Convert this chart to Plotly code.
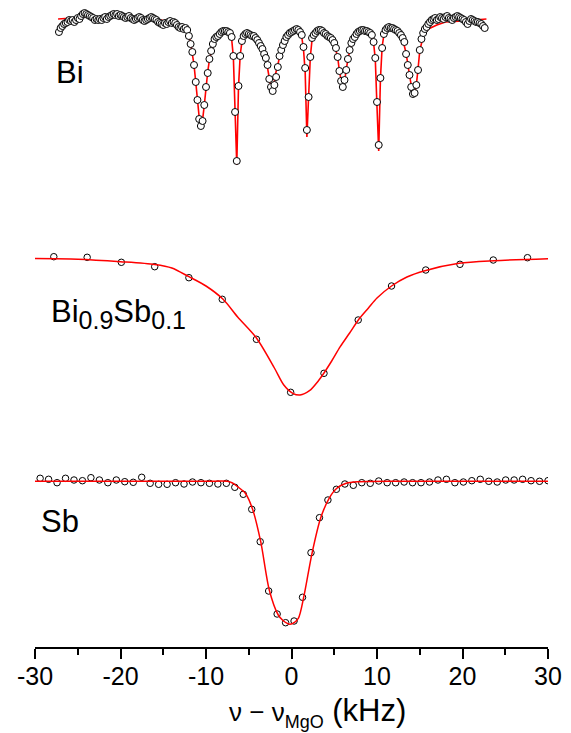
import plotly.graph_objects as go

# ---------------- data (heights in arbitrary units, stacked spectra) ----------------
bi_x = [
    -27.2, -27.0, -26.8, -26.6, -26.4, -26.2, -26.0, -25.8, -25.6, -25.4,
    -25.2, -25.0, -24.8, -24.6, -24.4, -24.2, -24.0, -23.8, -23.6, -23.4,
    -23.2, -23.0, -22.8, -22.6, -22.4, -22.2, -22.0, -21.8, -21.6, -21.4,
    -21.2, -21.0, -20.8, -20.6, -20.4, -20.2, -20.0, -19.8, -19.6, -19.4,
    -19.2, -19.0, -18.8, -18.6, -18.4, -18.2, -18.0, -17.8, -17.6, -17.4,
    -17.2, -17.0, -16.8, -16.6, -16.4, -16.2, -16.0, -15.8, -15.6, -15.4,
    -15.2, -15.0, -14.8, -14.6, -14.4, -14.2, -14.0, -13.8, -13.6, -13.4,
    -13.2, -13.0, -12.8, -12.6, -12.4, -12.2, -12.0, -11.8, -11.6, -11.4,
    -11.2, -11.0, -10.8, -10.6, -10.4, -10.2, -10.0, -9.8, -9.6, -9.4,
    -9.2, -9.0, -8.8, -8.6, -8.4, -8.2, -8.0, -7.8, -7.6, -7.4,
    -7.2, -7.0, -6.8, -6.6, -6.4, -6.2, -6.0, -5.8, -5.6, -5.4,
    -5.2, -5.0, -4.8, -4.6, -4.4, -4.2, -4.0, -3.8, -3.6, -3.4,
    -3.2, -3.0, -2.8, -2.6, -2.4, -2.2, -2.0, -1.8, -1.6, -1.4,
    -1.2, -1.0, -0.8, -0.6, -0.4, -0.2, 0.0, 0.2, 0.4, 0.6,
    0.8, 1.0, 1.2, 1.4, 1.6, 1.8, 2.0, 2.2, 2.4, 2.6,
    2.8, 3.0, 3.2, 3.4, 3.6, 3.8, 4.0, 4.2, 4.4, 4.6,
    4.8, 5.0, 5.2, 5.4, 5.6, 5.8, 6.0, 6.2, 6.4, 6.6,
    6.8, 7.0, 7.2, 7.4, 7.6, 7.8, 8.0, 8.2, 8.4, 8.6,
    8.8, 9.0, 9.2, 9.4, 9.6, 9.8, 10.0, 10.2, 10.4, 10.6,
    10.8, 11.0, 11.2, 11.4, 11.6, 11.8, 12.0, 12.2, 12.4, 12.6,
    12.8, 13.0, 13.2, 13.4, 13.6, 13.8, 14.0, 14.2, 14.4, 14.6,
    14.8, 15.0, 15.2, 15.4, 15.6, 15.8, 16.0, 16.2, 16.4, 16.6,
    16.8, 17.0, 17.2, 17.4, 17.6, 17.8, 18.0, 18.2, 18.4, 18.6,
    18.8, 19.0, 19.2, 19.4, 19.6, 19.8, 20.0, 20.2, 20.4, 20.6,
    20.8, 21.0, 21.2, 21.4, 21.6, 21.8, 22.0, 22.2, 22.4, 22.6,
]
bi_y = [
    615, 619, 621, 623, 624, 625, 627, 626, 627, 625,
    627, 629, 628, 631, 633, 634, 633, 632, 631, 630,
    629, 627, 628, 627, 628, 627, 629, 630, 628, 630,
    631, 632, 633, 632, 633, 631, 632, 631, 630, 629,
    630, 631, 629, 628, 627, 628, 629, 630, 629, 627,
    626, 627, 628, 629, 630, 629, 628, 627, 625, 624,
    623, 622, 624, 623, 625, 626, 624, 625, 624, 622,
    620, 619, 620, 618, 619, 617, 611, 603, 595, 582,
    565, 547, 528, 521, 526, 542, 560, 574, 588, 596,
    603, 608, 610, 611, 613, 615, 616, 616, 616, 615,
    614, 610, 591, 535, 486, 561, 591, 606, 611, 613,
    614, 613, 612, 611, 611, 609, 607, 604, 601, 598,
    593, 589, 582, 568, 560, 556, 562, 570, 580, 591,
    597, 602, 606, 610, 612, 614, 615, 616, 617, 618,
    617, 615, 612, 600, 579, 517, 550, 590, 609, 612,
    614, 616, 617, 617, 616, 614, 613, 611, 610, 609,
    607, 604, 599, 590, 576, 566, 560, 567, 577, 588,
    597, 604, 608, 610, 613, 615, 616, 617, 617, 616,
    616, 615, 614, 612, 605, 589, 545, 502, 569, 599,
    613, 617, 619, 620, 619, 619, 618, 617, 616, 614,
    612, 609, 605, 593, 582, 572, 560, 553, 554, 562,
    577, 597, 608, 614, 618, 620, 623, 625, 627, 628,
    629, 627, 628, 630, 629, 628, 630, 631, 629, 628,
    627, 629, 630, 631, 630, 629, 628, 627, 625, 623,
    626, 628, 627, 626, 625, 625, 624, 623, 621, 619,
]
bi_fit_x = [-27.3, -24.0, -20.0, -16.0, -14.0, -13.0, -12.3, -12.0, -11.8, -11.6,
            -11.4, -11.2, -11.0, -10.8, -10.6, -10.4, -10.2, -10.0, -9.8, -9.6,
            -9.4, -9.2, -9.0, -8.5, -8.0, -7.5, -7.2, -7.0, -6.8, -6.6,
            -6.4, -6.2, -6.0, -5.8, -5.5, -5.0, -4.5, -4.0, -3.5, -3.0,
            -2.7, -2.5, -2.3, -2.1, -1.9, -1.6, -1.4, -1.0, -0.5, 0.0,
            0.5, 1.0, 1.2, 1.4, 1.6, 1.8, 2.0, 2.2, 2.4, 3.0,
            3.5, 4.0, 4.5, 5.0, 5.4, 5.6, 5.8, 6.0, 6.2, 6.4,
            6.6, 7.0, 7.5, 8.0, 8.5, 9.0, 9.4, 9.6, 9.8, 10.0,
            10.2, 10.4, 10.6, 10.8, 11.2, 12.0, 12.6, 13.0, 13.4, 13.8,
            14.0, 14.2, 14.4, 14.6, 14.8, 15.0, 15.4, 16.0, 17.0, 18.0,
            20.0, 22.8]
bi_fit_y = [628, 630, 630, 628, 625, 622, 617, 612, 604, 595,
            582, 565, 547, 530, 519, 527, 542, 560, 575, 587,
            596, 603, 607, 612, 615, 615, 613, 608, 590, 540,
            482, 560, 592, 605, 611, 613, 611, 607, 600, 589,
            575, 563, 554, 560, 572, 582, 590, 601, 609, 614,
            617, 614, 610, 598, 575, 510, 548, 590, 607, 615,
            616, 612, 609, 603, 590, 576, 565, 558, 566, 577,
            588, 603, 611, 615, 616, 614, 611, 604, 588, 540,
            496, 568, 600, 612, 617, 617, 614, 608, 594, 572,
            560, 552, 553, 562, 578, 596, 611, 618, 622, 625,
            626, 628]

bisb_x = [-27.8, -23.9, -19.9, -16.0, -12.0, -8.1, -4.1, -0.1, 3.8, 7.8,
          11.7, 15.7, 19.7, 23.6, 27.6]
bisb_y = [390.3, 389.7, 384.7, 380.3, 369.3, 347.7, 307.7, 254.7, 273.7, 327.0,
          361.0, 377.0, 382.7, 387.0, 389.3]
bisb_fit_x = [-30, -25, -20, -16, -14, -12, -10, -8, -6.3, -4.1,
              -2.0, -0.9, 0.15, 1.0, 2.1, 3.15, 3.8, 4.7, 5.7, 6.8,
              7.9, 9.0, 10.0, 11.7, 13.5, 15.6, 19.6, 23.7, 30]
bisb_fit_y = [388.4, 387.8, 385.3, 382.5, 379.0, 370.3, 361.0, 347.7, 330.0, 309.0,
              279.0, 262.0, 253.7, 252.0, 256.3, 266.3, 274.0, 286.0, 300.3, 314.0,
              328.0, 339.0, 349.0, 361.0, 370.0, 376.3, 383.7, 386.3, 388.3]

sb_x = [-29.4, -28.41, -27.42, -26.43, -25.44, -24.45, -23.46, -22.47, -21.48, -20.49,
        -19.5, -18.51, -17.52, -16.53, -15.54, -14.55, -13.56, -12.57, -11.58, -10.59,
        -9.6, -8.61, -7.62, -6.63, -5.64, -4.65, -3.66, -2.67, -1.68, -0.69,
        0.3, 1.29, 2.28, 3.27, 4.26, 5.25, 6.24, 7.23, 8.22, 9.21,
        10.2, 11.19, 12.18, 13.17, 14.16, 15.15, 16.14, 17.13, 18.12, 19.11,
        20.1, 21.09, 22.08, 23.07, 24.06, 25.05, 26.04, 27.03, 28.02, 29.01,
        30.0]
sb_y = [168.7, 167.7, 164.3, 168.7, 167.0, 166.3, 169.3, 167.0, 164.3, 167.0,
        165.3, 164.7, 169.7, 163.7, 162.7, 162.7, 164.3, 163.0, 165.0, 164.3,
        163.7, 163.0, 163.7, 159.7, 152.7, 137.7, 105.3, 56.0, 33.0, 24.3,
        26.0, 49.7, 94.3, 129.3, 147.0, 157.7, 163.0, 161.7, 164.3, 163.7,
        166.0, 164.3, 164.3, 165.0, 164.3, 164.3, 165.0, 167.0, 167.7, 164.3,
        165.0, 166.3, 167.7, 165.7, 165.0, 167.0, 167.0, 167.7, 166.3, 165.7,
        166.3]
sb_fit_x = [-30, -10, -7.5, -6.9, -6.3, -5.4, -4.55, -3.6, -2.6, -1.55,
            -1.0, -0.5, -0.2, 0.15, 0.8, 1.44, 2.4, 3.4, 4.4, 5.3,
            6.4, 7.9, 9.0, 12.0, 30]
sb_fit_y = [165.7, 165.7, 165.7, 164.0, 160.3, 153.7, 137.7, 105.3, 57.0, 32.0,
            26.5, 23.7, 22.8, 23.7, 28.7, 50.3, 93.7, 128.7, 148.7, 158.7,
            163.7, 165.3, 165.6, 165.7, 165.7]

tick_vals = [-30, -20, -10, 0, 10, 20, 30]
tick_text = ["-30", "-20", "-10", "0", "10", "20", "30"]

# ---------------- figure ----------------
RED = "#ff0000"
FONT = "Liberation Sans, Arial, sans-serif"

fig = go.Figure()

# Bi: fit behind filled circles
fig.add_trace(go.Scatter(x=bi_fit_x, y=bi_fit_y, mode="lines",
                         line=dict(color=RED, width=1.6), hoverinfo="skip"))
fig.add_trace(go.Scatter(x=bi_x, y=bi_y, mode="markers",
                         marker=dict(symbol="circle", size=7, color="white",
                                     line=dict(color="black", width=1))))

# Bi0.9Sb0.1
fig.add_trace(go.Scatter(x=bisb_x, y=bisb_y, mode="markers",
                         marker=dict(symbol="circle-open", size=6.5, color="black",
                                     line=dict(color="black", width=1))))
fig.add_trace(go.Scatter(x=bisb_fit_x, y=bisb_fit_y, mode="lines",
                         line=dict(color=RED, width=1.5, shape="spline", smoothing=0.8),
                         hoverinfo="skip"))

# Sb
fig.add_trace(go.Scatter(x=sb_x, y=sb_y, mode="markers",
                         marker=dict(symbol="circle-open", size=6.5, color="black",
                                     line=dict(color="black", width=1))))
fig.add_trace(go.Scatter(x=sb_fit_x, y=sb_fit_y, mode="lines",
                         line=dict(color=RED, width=1.5, shape="spline", smoothing=0.8),
                         hoverinfo="skip"))

SUB = '<sub><span style="font-size:25px">{}</span></sub>'
labels = [
    dict(text="Bi", x=-27.8, y=575),
    dict(text="Bi" + SUB.format("0.9") + "Sb" + SUB.format("0.1"), x=-28.4, y=333),
    dict(text="Sb", x=-29.5, y=126),
]
annotations = []
for lb in labels:
    annotations.append(dict(text=lb["text"], x=lb["x"], y=lb["y"], xref="x", yref="y",
                            xanchor="left", yanchor="middle", showarrow=False,
                            font=dict(family=FONT, size=31, color="black")))
x_title = ('<span style="font-size:26px">\u03bd \u2212 \u03bd</span>'
           '<sub><span style="font-size:18px">MgO</span></sub> (kHz)')
annotations.append(dict(text=x_title, x=-7.55, y=-0.102,
                        xref="x", yref="paper", xanchor="left", yanchor="middle",
                        showarrow=False, font=dict(family=FONT, size=31, color="black")))

fig.update_layout(
    width=571, height=733,
    margin=dict(l=35, r=23, t=0, b=86, pad=0),
    paper_bgcolor="white", plot_bgcolor="white",
    showlegend=False,
    annotations=annotations,
    xaxis=dict(range=[-30, 30], tickmode="array", tickvals=tick_vals, ticktext=tick_text,
               ticks="outside", ticklen=10, tickwidth=1.6, tickcolor="black",
               showline=True, linecolor="black", linewidth=1.6,
               showgrid=False, zeroline=False, ticklabelstandoff=-4,
               tickfont=dict(family=FONT, size=25, color="black"),
               minor=dict(dtick=5, tick0=0, ticks="outside", ticklen=6, tickwidth=1.6,
                          tickcolor="black", showgrid=False)),
    yaxis=dict(range=[0, 647], visible=False, showgrid=False, zeroline=False),
)

fig.write_html("out.html", config={"displayModeBar": False},
               post_script="document.body.style.margin='0';document.body.style.overflow='hidden';")
